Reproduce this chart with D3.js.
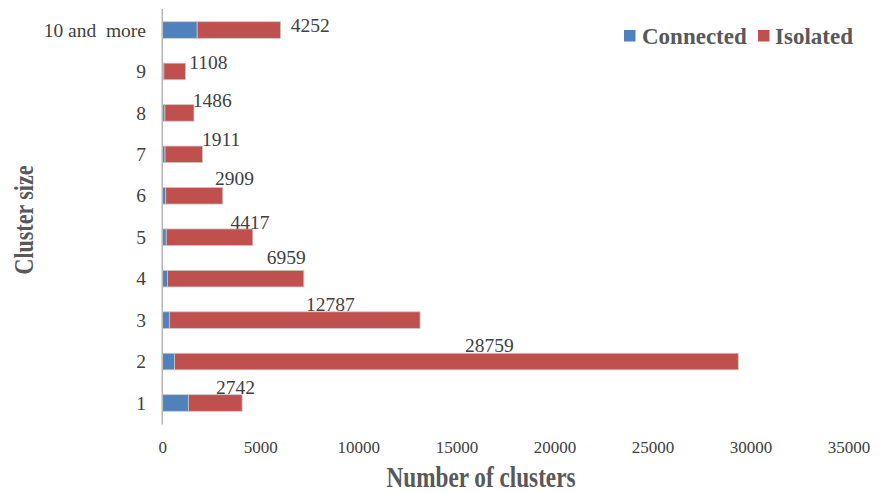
<!DOCTYPE html>
<html>
<head>
<meta charset="utf-8">
<script src="https://cdn.jsdelivr.net/npm/d3@7"></script>
<style>
  html, body { margin: 0; padding: 0; background: #ffffff; }
  svg { display: block; }
  svg text { font-family: "Liberation Serif", "Times New Roman", serif; }
</style>
</head>
<body>
<svg id="chart" width="880" height="493"></svg>
<script>
// ---- data ----
const categories = ["1", "2", "3", "4", "5", "6", "7", "8", "9", "10 and  more"];
const connected  = [1330, 620, 360, 260, 200, 175, 140, 130, 80, 1780];
const isolated   = [2742, 28759, 12787, 6959, 4417, 2909, 1911, 1486, 1108, 4252];
const seriesNames = ["Connected", "Isolated"];
const xTicks = [0, 5000, 10000, 15000, 20000, 25000, 30000, 35000];
// where each isolated-value label sits along the value axis (data units)
const labelAt = [3735, 16684, 8571, 6321, 4474, 3684, 2995, 2546, 2347, 7541];
// label baseline shift relative to bar centre (px)
const labelDy = [-9, -10, -9, -15, -8.7, -10.7, -8.7, -5.6, -2.7, 1.5];

const colors = { Connected: "#4F81BD", Isolated: "#C0504D" };
const serif = "\"Liberation Serif\", \"Times New Roman\", serif";

// ---- layout ----
const svg = d3.select("#chart");
const x = d3.scaleLinear().domain([0, 35000]).range([162.3, 848.5]);
const y = d3.scaleBand()
  .domain(categories.slice().reverse())
  .range([9.3, 423.7])
  .paddingInner(0.6)
  .paddingOuter(0.3);

const rows = categories.map((c, i) => ({ cat: c, Connected: connected[i], Isolated: isolated[i], i }));
const stack = d3.stack().keys(seriesNames)(rows);

// bars
svg.append("g").selectAll("g")
  .data(stack)
  .join("g")
  .attr("fill", d => colors[d.key])
  .selectAll("rect")
  .data(d => d)
  .join("rect")
  .attr("x", d => x(d[0]))
  .attr("y", d => y(d.data.cat))
  .attr("width", d => x(d[1]) - x(d[0]))
  .attr("height", y.bandwidth())
  .attr("stroke", "#c8c8c8")
  .attr("stroke-width", 0.8);

// vertical axis line
svg.append("line")
  .attr("x1", x(0)).attr("x2", x(0))
  .attr("y1", 9).attr("y2", 424.5)
  .attr("stroke", "#b8b8b8")
  .attr("stroke-width", 1.6);

// x tick labels
const xAxis = d3.axisBottom(x).tickValues(xTicks).tickSize(0).tickPadding(0).tickFormat(d3.format("d"));
const gx = svg.append("g").attr("transform", "translate(0,440)").call(xAxis)
  .attr("font-family", serif).attr("font-size", 17);
gx.select(".domain").remove();
gx.selectAll("text")
  .attr("y", 13)
  .attr("dy", 0)
  .attr("fill", "#404040");

// y category labels
const yAxis = d3.axisLeft(y).tickSize(0).tickPadding(0);
const gy = svg.append("g").attr("transform", "translate(146,0)").call(yAxis)
  .attr("font-family", serif).attr("font-size", 19.5);
gy.select(".domain").remove();
gy.selectAll("text")
  .attr("x", 0)
  .attr("dy", "0.34em")
  .attr("fill", "#404040")
  .style("white-space", "pre");

// value labels
svg.append("g").attr("font-family", serif).selectAll("text")
  .data(rows)
  .join("text")
  .attr("x", d => x(labelAt[d.i]))
  .attr("y", d => y(d.cat) + y.bandwidth() / 2 + labelDy[d.i])
  .attr("text-anchor", "middle")
  .attr("font-size", 19.5)
  .attr("fill", "#404040")
  .text(d => d.Isolated);

// legend
const legend = svg.append("g").attr("font-family", serif);
const legendItems = [
  { name: "Connected", sx: 624, tx: 642 },
  { name: "Isolated", sx: 758, tx: 775 }
];
legendItems.forEach(it => {
  legend.append("rect")
    .attr("x", it.sx).attr("y", 30)
    .attr("width", 11.5).attr("height", 11.5)
    .attr("fill", colors[it.name]);
  legend.append("text")
    .attr("x", it.tx).attr("y", 43.5)
    .attr("font-size", 23)
    .attr("font-weight", "bold")
    .attr("fill", "#595959")
    .text(it.name);
});

// axis titles
svg.append("text")
  .attr("transform", "translate(481,486.5) scale(1,1.25)")
  .attr("text-anchor", "middle")
  .attr("font-family", serif)
  .attr("font-size", 23.2)
  .attr("font-weight", "bold")
  .attr("fill", "#595959")
  .text("Number of clusters");

svg.append("text")
  .attr("transform", "translate(33,220) rotate(-90) scale(1,1.2)")
  .attr("text-anchor", "middle")
  .attr("font-family", serif)
  .attr("font-size", 22)
  .attr("font-weight", "bold")
  .attr("fill", "#595959")
  .text("Cluster size");
</script>
</body>
</html>
